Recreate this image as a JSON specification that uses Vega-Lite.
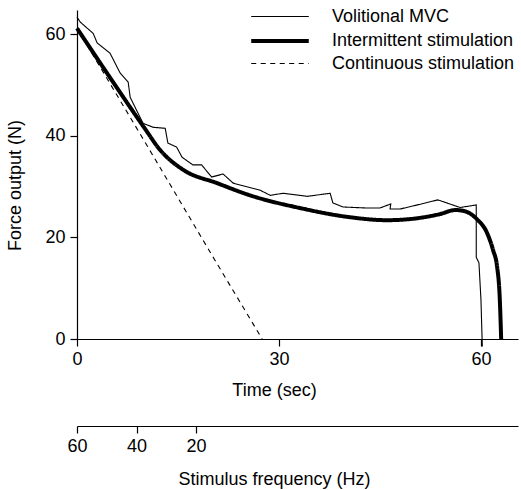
{
  "$schema": "https://vega.github.io/schema/vega-lite/v6.json",
  "width": 441,
  "height": 329,
  "autosize": {"type": "none"},
  "padding": {"left": 77, "top": 10, "right": 3, "bottom": 151},
  "background": "white",
  "config": {
    "font": "Liberation Sans",
    "view": {"stroke": null},
    "axis": {
      "grid": false,
      "domainColor": "black",
      "tickColor": "black",
      "labelColor": "black",
      "titleColor": "black",
      "labelFontSize": 18,
      "titleFontSize": 18,
      "titleFontWeight": "normal",
      "tickSize": 7,
      "domainWidth": 1.2,
      "tickWidth": 1.2,
      "labelFlush": false
    },
    "legend": {
      "labelFontSize": 18,
      "labelColor": "black",
      "labelLimit": 0
    }
  },
  "datasets": {
    "series": [
      {"s": "Volitional MVC", "i": 0, "t": 0, "f": 63.4},
      {"s": "Volitional MVC", "i": 1, "t": 0.5, "f": 62.4},
      {"s": "Volitional MVC", "i": 2, "t": 2.4, "f": 60.2},
      {"s": "Volitional MVC", "i": 3, "t": 3.0, "f": 58.3},
      {"s": "Volitional MVC", "i": 4, "t": 4.9, "f": 56.3},
      {"s": "Volitional MVC", "i": 5, "t": 6.4, "f": 52.4},
      {"s": "Volitional MVC", "i": 6, "t": 7.6, "f": 50.6},
      {"s": "Volitional MVC", "i": 7, "t": 7.9, "f": 47.6},
      {"s": "Volitional MVC", "i": 8, "t": 9.8, "f": 42.5},
      {"s": "Volitional MVC", "i": 9, "t": 11.3, "f": 41.7},
      {"s": "Volitional MVC", "i": 10, "t": 13.1, "f": 41.5},
      {"s": "Volitional MVC", "i": 11, "t": 13.5, "f": 38.6},
      {"s": "Volitional MVC", "i": 12, "t": 14.8, "f": 37.8},
      {"s": "Volitional MVC", "i": 13, "t": 15.6, "f": 35.8},
      {"s": "Volitional MVC", "i": 14, "t": 17.2, "f": 34.3},
      {"s": "Volitional MVC", "i": 15, "t": 18.5, "f": 34.3},
      {"s": "Volitional MVC", "i": 16, "t": 20.0, "f": 31.9},
      {"s": "Volitional MVC", "i": 17, "t": 21.7, "f": 32.5},
      {"s": "Volitional MVC", "i": 18, "t": 23.2, "f": 30.7},
      {"s": "Volitional MVC", "i": 19, "t": 27.2, "f": 29.3},
      {"s": "Volitional MVC", "i": 20, "t": 28.7, "f": 28.3},
      {"s": "Volitional MVC", "i": 21, "t": 30.6, "f": 28.7},
      {"s": "Volitional MVC", "i": 22, "t": 34.2, "f": 28.1},
      {"s": "Volitional MVC", "i": 23, "t": 37.6, "f": 28.7},
      {"s": "Volitional MVC", "i": 24, "t": 38.0, "f": 26.8},
      {"s": "Volitional MVC", "i": 25, "t": 39.5, "f": 26.0},
      {"s": "Volitional MVC", "i": 26, "t": 43.0, "f": 25.8},
      {"s": "Volitional MVC", "i": 27, "t": 45.0, "f": 25.8},
      {"s": "Volitional MVC", "i": 28, "t": 46.6, "f": 26.6},
      {"s": "Volitional MVC", "i": 29, "t": 46.5, "f": 25.6},
      {"s": "Volitional MVC", "i": 30, "t": 48.0, "f": 25.6},
      {"s": "Volitional MVC", "i": 31, "t": 49.9, "f": 26.2},
      {"s": "Volitional MVC", "i": 32, "t": 53.6, "f": 27.4},
      {"s": "Volitional MVC", "i": 33, "t": 56.9, "f": 25.9},
      {"s": "Volitional MVC", "i": 34, "t": 59.3, "f": 26.4},
      {"s": "Volitional MVC", "i": 35, "t": 59.3, "f": 16.1},
      {"s": "Volitional MVC", "i": 36, "t": 59.7, "f": 15.0},
      {"s": "Volitional MVC", "i": 37, "t": 60.0, "f": 7.7},
      {"s": "Volitional MVC", "i": 38, "t": 60.2, "f": -1.5},
      {"s": "Intermittent stimulation", "i": 0, "t": 0, "f": 61.2},
      {"s": "Intermittent stimulation", "i": 1, "t": 5, "f": 51.3},
      {"s": "Intermittent stimulation", "i": 2, "t": 10, "f": 41.6},
      {"s": "Intermittent stimulation", "i": 3, "t": 12.3, "f": 37.3},
      {"s": "Intermittent stimulation", "i": 4, "t": 15.8, "f": 33.3},
      {"s": "Intermittent stimulation", "i": 5, "t": 20.8, "f": 30.7},
      {"s": "Intermittent stimulation", "i": 6, "t": 25.7, "f": 28.3},
      {"s": "Intermittent stimulation", "i": 7, "t": 33.1, "f": 25.8},
      {"s": "Intermittent stimulation", "i": 8, "t": 40.5, "f": 24.0},
      {"s": "Intermittent stimulation", "i": 9, "t": 46.0, "f": 23.4},
      {"s": "Intermittent stimulation", "i": 10, "t": 50.0, "f": 23.7},
      {"s": "Intermittent stimulation", "i": 11, "t": 53.9, "f": 24.6},
      {"s": "Intermittent stimulation", "i": 12, "t": 56.2, "f": 25.4},
      {"s": "Intermittent stimulation", "i": 13, "t": 57.5, "f": 25.2},
      {"s": "Intermittent stimulation", "i": 14, "t": 59.4, "f": 23.6},
      {"s": "Intermittent stimulation", "i": 15, "t": 60.9, "f": 20.9},
      {"s": "Intermittent stimulation", "i": 16, "t": 61.8, "f": 17.5},
      {"s": "Intermittent stimulation", "i": 17, "t": 62.4, "f": 14.2},
      {"s": "Intermittent stimulation", "i": 18, "t": 62.8, "f": 7.7},
      {"s": "Intermittent stimulation", "i": 19, "t": 63.0, "f": 0},
      {"s": "Continuous stimulation", "i": 0, "t": 0, "f": 61.2},
      {"s": "Continuous stimulation", "i": 1, "t": 10, "f": 39.0},
      {"s": "Continuous stimulation", "i": 2, "t": 20, "f": 16.6},
      {"s": "Continuous stimulation", "i": 3, "t": 27.5, "f": 0}
    ],
    "freq": [
      {"hz": 60},
      {"hz": 40},
      {"hz": 20}
    ]
  },
  "layer": [
    {
      "data": {"name": "series"},
      "encoding": {
        "x": {
          "field": "t", "type": "quantitative",
          "scale": {"domain": [0, 65.5], "nice": false, "zero": false},
          "axis": {
            "values": [0, 30, 60],
            "title": "Time (sec)",
            "labelPadding": 4,
            "titleX": 197,
            "titleY": 51,
            "titleBaseline": "middle",
            "titleAlign": "center"
          }
        },
        "y": {
          "field": "f", "type": "quantitative",
          "scale": {"domain": [0, 64.8], "nice": false, "zero": false},
          "axis": {
            "values": [0, 20, 40, 60],
            "title": "Force output (N)",
            "labelPadding": 5,
            "titleX": -62,
            "titleY": 175,
            "titleBaseline": "middle",
            "titleAlign": "center",
            "titleAngle": 270
          }
        },
        "order": {"field": "i"},
        "strokeWidth": {
          "field": "s", "type": "nominal",
          "scale": {"type": "ordinal", "domain": ["Volitional MVC", "Intermittent stimulation", "Continuous stimulation"], "range": [1.1, 4, 1.1]},
          "legend": {
            "title": null,
            "orient": "none",
            "legendX": 189,
            "legendY": -6,
            "symbolType": "M-2.5,0H2.5",
            "symbolSize": 530,
            "labelOffset": 38,
            "padding": 0,
            "rowPadding": 1
          }
        },
        "strokeDash": {
          "field": "s", "type": "nominal",
          "scale": {"domain": ["Volitional MVC", "Intermittent stimulation", "Continuous stimulation"], "range": [[1, 0], [1, 0], [5, 4.5]]},
          "legend": {
            "title": null,
            "orient": "none",
            "legendX": 189,
            "legendY": -6,
            "symbolType": "M-2.5,0H2.5",
            "symbolSize": 530,
            "labelOffset": 38,
            "padding": 0,
            "rowPadding": 1
          }
        }
      },
      "layer": [
        {
          "transform": [{"filter": "datum.s != 'Intermittent stimulation'"}],
          "mark": {"type": "line", "color": "black", "clip": false, "strokeCap": "butt"}
        },
        {
          "transform": [{"filter": "datum.s == 'Intermittent stimulation'"}],
          "mark": {"type": "line", "color": "black", "clip": false, "strokeCap": "butt", "interpolate": "monotone"}
        }
      ]
    },
    {
      "data": {"name": "freq"},
      "mark": {"type": "point", "opacity": 0},
      "encoding": {
        "x": {
          "field": "hz", "type": "quantitative",
          "scale": {"domain": [60, -88.2], "nice": false, "zero": false},
          "axis": {
            "orient": "bottom",
            "offset": 87,
            "values": [60, 40, 20],
            "title": "Stimulus frequency (Hz)",
            "labelPadding": 4,
            "titleX": 197,
            "titleY": 53,
            "titleBaseline": "middle",
            "titleAlign": "center"
          }
        }
      }
    }
  ],
  "resolve": {"scale": {"x": "independent"}}
}
